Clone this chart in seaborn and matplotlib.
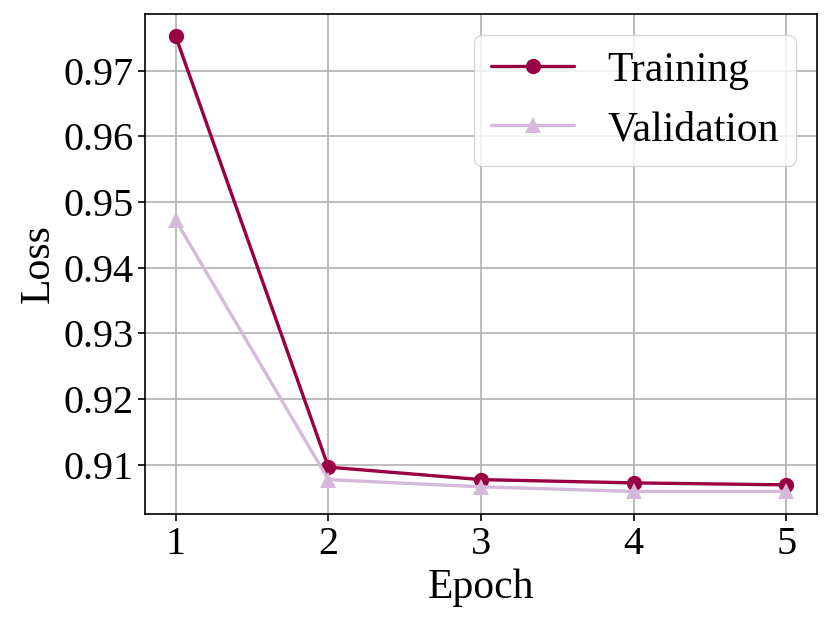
import numpy as np
import pandas as pd
import matplotlib
matplotlib.use("Agg")
import matplotlib.pyplot as plt
import seaborn as sns

# エポック毎の損失
epochs = [1, 2, 3, 4, 5]
train_loss = [0.9752, 0.9096, 0.9077, 0.9072, 0.9069]
val_loss = [0.9472, 0.9077, 0.9066, 0.9059, 0.9059]

sns.set_style("ticks")
plt.rcParams['font.family'] = ['Liberation Serif', 'DejaVu Serif']
plt.rcParams['text.color'] = 'black'
plt.rcParams['axes.labelcolor'] = 'black'
plt.rcParams['xtick.color'] = 'black'
plt.rcParams['ytick.color'] = 'black'

fig, ax = plt.subplots(figsize=(8.3, 6.24), dpi=100)
fig.subplots_adjust(left=0.175, right=0.984, top=0.978, bottom=0.176)

sns.lineplot(x=epochs, y=train_loss, ax=ax, color="#980043", marker="o",
             markersize=11, markeredgewidth=0, linewidth=2.4, label="Training")
sns.lineplot(x=epochs, y=val_loss, ax=ax, color="#d4b9da", marker="^",
             markersize=11, markeredgewidth=0, linewidth=2.4, label="Validation")

ax.set_xticks(epochs)
ax.set_yticks([0.91, 0.92, 0.93, 0.94, 0.95, 0.96, 0.97])
ax.set_xlabel("Epoch", fontsize=30)
ax.set_ylabel("Loss", fontsize=30)
ax.tick_params(labelsize=29, width=1.2, length=5, colors="black")
ax.grid(True, color="#b0b0b0", linewidth=1.2)
for s in ax.spines.values():
    s.set_linewidth(1.2)
    s.set_color("black")
ax.legend(loc="upper right", fontsize=30, handlelength=2.0)

plt.savefig("out.png", dpi=100)
